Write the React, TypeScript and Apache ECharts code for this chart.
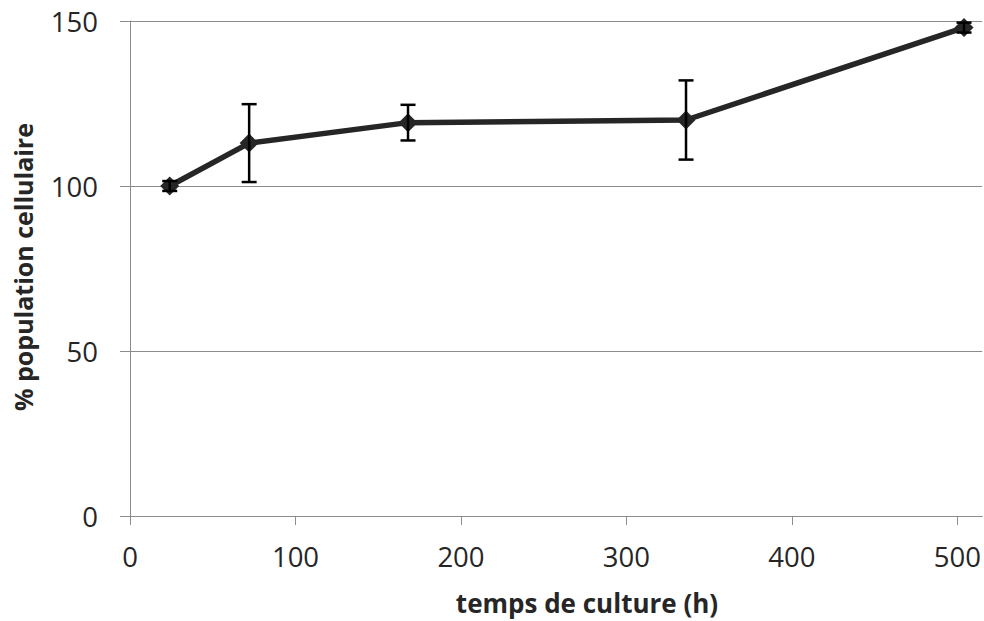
import React, { useEffect, useRef } from "react";
import * as echarts from "echarts";

const hours = [24, 72, 168, 336, 504];
const population = [100, 113, 119.2, 120, 148];
const errors = [1.5, 11.8, 5.4, 12, 1.5];
const xTicks = [0, 100, 200, 300, 400, 500];
const yTicks = [0, 50, 100, 150];

const FONT = "'Open Sans', 'Noto Sans', sans-serif";

export default function App() {
  const ref = useRef<HTMLDivElement>(null);
  useEffect(() => {
    if (!ref.current) return;
    const chart = echarts.init(ref.current, null, { renderer: "svg" });
    const lineData = hours.map((h, i) => [h, population[i]]);
    const errData = hours.map((h, i) => [h, population[i] - errors[i], population[i] + errors[i]]);
    chart.setOption({
      animation: false,
      backgroundColor: "#ffffff",
      grid: { left: 130, right: 0, top: 21, bottom: 105 },
      xAxis: {
        type: "value",
        min: 0,
        max: 515,
        interval: 100,
        axisLine: { show: true, lineStyle: { color: "#8c8c8c", width: 1 } },
        axisTick: { show: true, length: 9, lineStyle: { color: "#8c8c8c" } },
        splitLine: { show: false },
        axisLabel: {
          margin: 26,
          fontSize: 27.5,
          fontFamily: FONT,
          color: "#262626",
          showMaxLabel: false,
          formatter: (v: number) => (xTicks.includes(v) ? String(v) : ""),
        },
      },
      yAxis: {
        type: "value",
        min: 0,
        max: 150,
        interval: 50,
        axisLine: { show: true, lineStyle: { color: "#8c8c8c", width: 1 } },
        axisTick: { show: true, length: 10, lineStyle: { color: "#8c8c8c" } },
        splitLine: { show: true, lineStyle: { color: "#8c8c8c", width: 1 } },
        axisLabel: {
          margin: 32,
          fontSize: 27.5,
          fontFamily: FONT,
          color: "#262626",
          formatter: (v: number) => (yTicks.includes(v) ? String(v) : ""),
        },
      },
      graphic: [
        {
          type: "text",
          x: 587,
          y: 603,
          style: {
            text: "temps de culture (h)",
            font: `bold 26px ${FONT}`,
            fill: "#262626",
            textAlign: "center",
            textVerticalAlign: "middle",
          },
        },
        {
          type: "text",
          x: 23,
          y: 267,
          rotation: Math.PI / 2,
          style: {
            text: "% population cellulaire",
            font: `bold 25px ${FONT}`,
            fill: "#262626",
            textAlign: "center",
            textVerticalAlign: "middle",
          },
        },
      ],
      series: [
        {
          type: "line",
          data: lineData,
          symbol: "diamond",
          symbolSize: 19,
          lineStyle: { color: "#262626", width: 5.5 },
          itemStyle: { color: "#262626" },
          z: 2,
        },
        {
          type: "custom",
          data: errData,
          z: 3,
          renderItem: (params: any, api: any) => {
            const x = api.value(0);
            const lo = api.coord([x, api.value(1)]);
            const hi = api.coord([x, api.value(2)]);
            const half = 7.5;
            const style = { stroke: "#000000", lineWidth: 2.5 };
            return {
              type: "group",
              children: [
                { type: "line", shape: { x1: lo[0], y1: lo[1], x2: hi[0], y2: hi[1] }, style },
                { type: "line", shape: { x1: hi[0] - half, y1: hi[1], x2: hi[0] + half, y2: hi[1] }, style },
                { type: "line", shape: { x1: lo[0] - half, y1: lo[1], x2: lo[0] + half, y2: lo[1] }, style },
              ],
            };
          },
        },
      ],
    });
    return () => chart.dispose();
  }, []);
  return <div ref={ref} style={{ width: 984, height: 621, position: "absolute", left: 0, top: 0 }} />;
}
